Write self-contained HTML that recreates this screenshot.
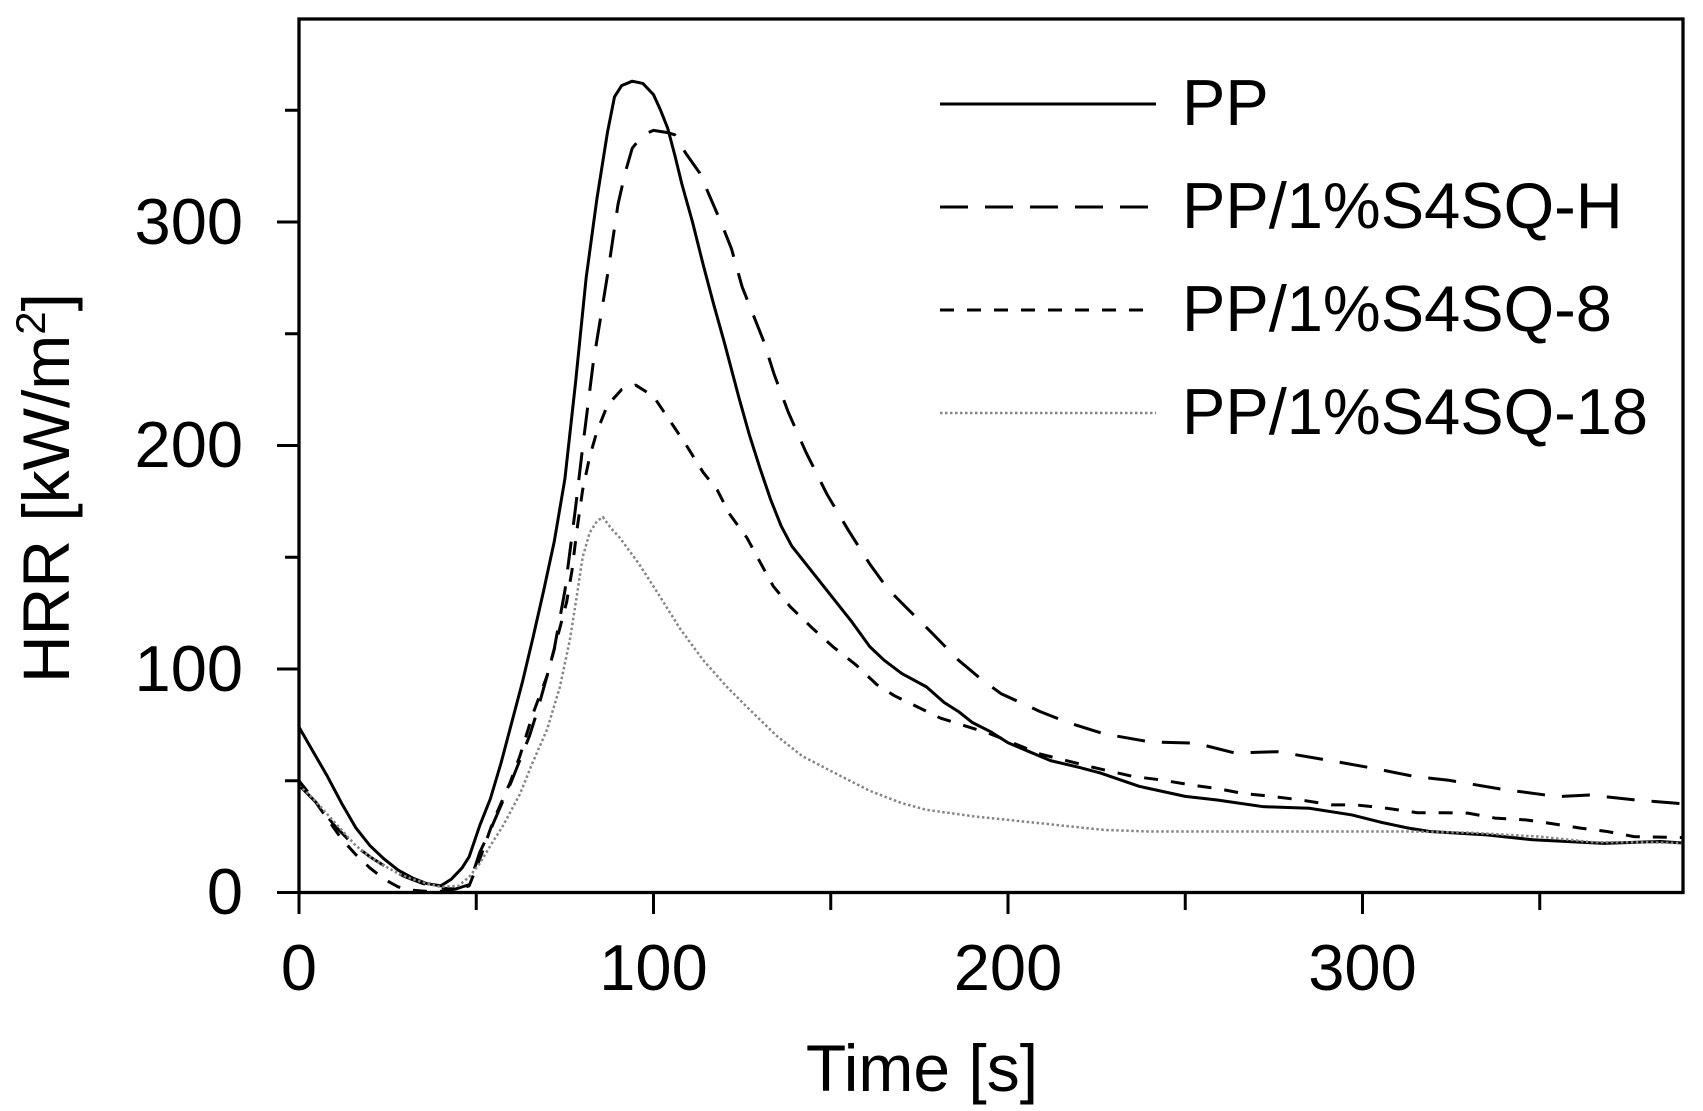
<!DOCTYPE html>
<html>
<head>
<meta charset="utf-8">
<style>
html,body{margin:0;padding:0;background:#fff;}
svg{display:block;}
text{font-family:"Liberation Sans",Arial,sans-serif;fill:#000;}
</style>
</head>
<body>
<svg width="1703" height="1111" viewBox="0 0 1703 1111" xmlns="http://www.w3.org/2000/svg">
<rect x="0" y="0" width="1703" height="1111" fill="#fff"/>
<defs>
<clipPath id="pc"><rect x="299" y="19" width="1384" height="874"/></clipPath>
</defs>

<!-- data series -->
<g clip-path="url(#pc)">
<g transform="matrix(3.545 0 0 -2.235 299 892.5)" fill="none" stroke-linejoin="round">
<!-- PP solid -->
<polyline vector-effect="non-scaling-stroke" stroke="#000" stroke-width="3" points="0,74 4,63 8,52 12,40 16,29 20,21 24,15 28,10 32,6.5 36,4 40,3 43,6 46,11 48,16 51,30 54,42 57,58 60,76 63,94 66,114 69,135 72,157 75,185 78,228 81,275 84,310 87,340 89,356 91,361 94,363 97,362 100,357 102,350 104,342 106,330 108,317 111,300 114,281 117,263 120,246 124,222 127,205 130,190 133,176 136,164 139,155 143,147 147,139 152,129 156,121 161,110 165,104 170,98 177,92 182,85 186,81 190,76 195,72 200,67 206,63 212,59 220,56 226,53.5 237,47.5 250,43 259,41.4 272,38.4 285,37.7 297,34.7 305,31.5 313,28.8 319,27.3 335,25.8 348,23.6 368,22 384,22.8 392,22"/>
<!-- PP/1%S4SQ-H long dash -->
<polyline vector-effect="non-scaling-stroke" stroke="#000" stroke-width="3" stroke-dasharray="28 17" points="0,48 5,40 10,30 15,22 20,16 25,11 30,7 35,4 40,2 44,1.5 48,3.5 51,18 54,28 57,39 60,50 62,58 65,70 67,80 70,97 72,109 75,135 78,172 80,199 83,237 87,276 90,308 92,322 94,333 97,339 100,341 104,340 106,339 109,331 113,322 116,311 119,300 122,288 125,271 128,259 131,247 134,232 138,215 143,197 149,178 155,162 161,147 166,136 171,128 178,117 186,104 192,96 198,89 209,81 217,76 227,71 240,67.4 253,66.8 264,62.4 276,63 291,59 303,55.6 315,51.8 324,50.3 339,46.3 355,42.9 364,43.6 377,41.4 392,39.5"/>
<!-- PP/1%S4SQ-8 short dash -->
<polyline vector-effect="non-scaling-stroke" stroke="#000" stroke-width="3" stroke-dasharray="14 13" points="0,50 4,42 8,33 12,24 16,17 20,11 24,6 28,2.5 32,1 36,0.5 40,0.5 44,1 48,3 51,15 54.8,32 59.5,49 62.3,61 66,80 70,97 72.7,113 75.5,130 77,144 78.3,161 80,180 82,195 84,206 87,218 91,225 95,227 100,222 105.5,209 109.3,200 114,188 118,180 121.6,169 126.4,158.6 130,148 133.8,137 138.5,128 145,118 150.6,110 157,102 163,93 168,88 181,78 195,71 209,62 224,56 235,52 243.5,50.3 252,48 258.7,46.6 266,44.4 275,42.9 282.6,41.4 291.4,39.2 298,39.2 306.8,37.7 315.5,35.7 323,35.7 329.7,35.5 337.4,33.3 346,32.5 352.7,31 361.5,28.8 369,27.3 376.6,25 392,24.5"/>
<!-- PP/1%S4SQ-18 dotted gray -->
<polyline vector-effect="non-scaling-stroke" stroke="#858585" stroke-width="2.5" stroke-dasharray="2.5 2.5" points="0,48 4,42 8,35 12,28 16,21 20,16 24,12 28,8.5 32,6 36,4 40,2.5 45,3 48,7 51,13 54,21 57.6,30 62.3,44 66,58.5 70,73 73.6,92 76.4,113 78.3,132 80,150 82,161 84,166 85.7,168 88,163 90.5,158.7 96,146.8 101.8,132.5 107.5,118 114,104 120.7,92 127,82 134.8,70 142,61 151.7,53 161,45.5 170,40 177,37 190.7,34 209,31 227,28 240,27.3 313,27.3 330,26.8 350,25 365,22.5 380,22.5 392,22"/>
</g>
</g>

<!-- frame -->
<rect x="299" y="19" width="1384" height="873.5" fill="none" stroke="#000" stroke-width="3.3"/>

<!-- y ticks -->
<g stroke="#000" stroke-width="3">
<line x1="277" y1="892.5" x2="299" y2="892.5"/>
<line x1="277" y1="669" x2="299" y2="669"/>
<line x1="277" y1="445.5" x2="299" y2="445.5"/>
<line x1="277" y1="222" x2="299" y2="222"/>
<line x1="285" y1="780.75" x2="299" y2="780.75"/>
<line x1="285" y1="557.25" x2="299" y2="557.25"/>
<line x1="285" y1="333.75" x2="299" y2="333.75"/>
<line x1="285" y1="110.25" x2="299" y2="110.25"/>
<!-- x ticks -->
<line x1="299" y1="892.5" x2="299" y2="914"/>
<line x1="653.5" y1="892.5" x2="653.5" y2="914"/>
<line x1="1008" y1="892.5" x2="1008" y2="914"/>
<line x1="1362.5" y1="892.5" x2="1362.5" y2="914"/>
<line x1="476.25" y1="892.5" x2="476.25" y2="910"/>
<line x1="830.75" y1="892.5" x2="830.75" y2="910"/>
<line x1="1185.25" y1="892.5" x2="1185.25" y2="910"/>
<line x1="1539.75" y1="892.5" x2="1539.75" y2="910"/>
</g>

<!-- y tick labels -->
<g font-size="65" text-anchor="end">
<text x="243" y="914">0</text>
<text x="243" y="691">100</text>
<text x="243" y="467">200</text>
<text x="243" y="244">300</text>
</g>
<!-- x tick labels -->
<g font-size="65" text-anchor="middle">
<text x="299" y="990">0</text>
<text x="653.5" y="990">100</text>
<text x="1008" y="990">200</text>
<text x="1362.5" y="990">300</text>
</g>

<!-- axis titles -->
<text x="922" y="1091" font-size="66" text-anchor="middle">Time [s]</text>
<text transform="translate(69,488) rotate(-90)" font-size="66" text-anchor="middle">HRR [kW/m<tspan font-size="42" dy="-24">2</tspan><tspan dy="24">]</tspan></text>

<!-- legend -->
<g fill="none">
<line x1="940" y1="104" x2="1156" y2="104" stroke="#000" stroke-width="3"/>
<line x1="940" y1="207" x2="1156" y2="207" stroke="#000" stroke-width="3" stroke-dasharray="28 17"/>
<line x1="940" y1="310" x2="1156" y2="310" stroke="#000" stroke-width="3" stroke-dasharray="14 13"/>
<line x1="940" y1="413" x2="1156" y2="413" stroke="#858585" stroke-width="2.5" stroke-dasharray="2.5 2.5"/>
</g>
<g font-size="65">
<text x="1182" y="125">PP</text>
<text x="1182" y="228">PP/1%S4SQ-H</text>
<text x="1182" y="331">PP/1%S4SQ-8</text>
<text x="1182" y="434">PP/1%S4SQ-18</text>
</g>
</svg>
</body>
</html>
